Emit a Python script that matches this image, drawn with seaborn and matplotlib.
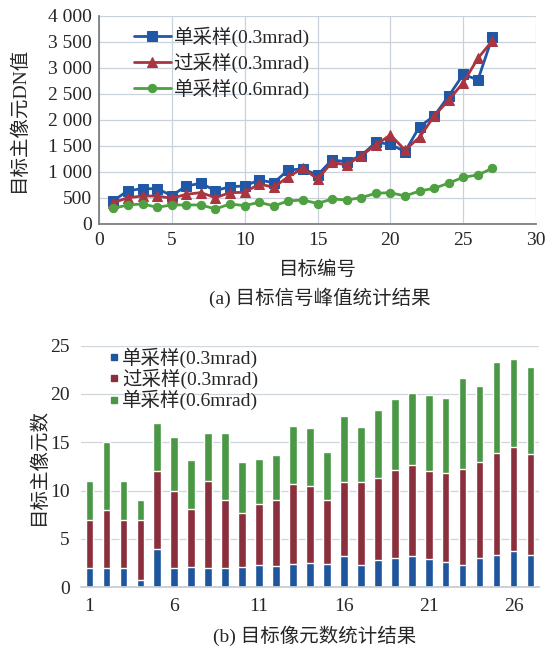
import numpy as np
import pandas as pd
import seaborn as sns
import matplotlib.pyplot as plt
from matplotlib.ticker import FuncFormatter, MultipleLocator
from matplotlib.lines import Line2D

# data
target_ids = list(range(1, 28))
series_names = ['单采样(0.3mrad)', '过采样(0.3mrad)', '单采样(0.6mrad)']

# (a) peak DN value of the target's main pixel
peak_single_03 = [442, 635, 673, 673, 539, 725, 776, 635, 711, 725, 840, 788, 1033, 1052,
                  937, 1225, 1192, 1308, 1565, 1527, 1385, 1866, 2071, 2456, 2873, 2763, 3596]
peak_over_03 = [404, 500, 532, 532, 488, 565, 597, 500, 597, 603, 763, 700, 904, 1065,
                860, 1180, 1129, 1308, 1514, 1706, 1417, 1662, 2071, 2379, 2712, 3181, 3519]
peak_single_06 = [296, 360, 379, 315, 360, 360, 360, 283, 379, 347, 411, 343, 437, 456,
                  388, 475, 456, 500, 585, 596, 532, 628, 680, 780, 893, 937, 1065]

# (b) number of main pixels (stacked segments)
pix_single_03 = [2, 2, 2, 0.8, 4, 2, 2.1, 2, 2, 2.1, 2.3, 2.2, 2.4, 2.5, 2.4, 3.2, 2.3,
                 2.8, 3.0, 3.2, 2.9, 2.6, 2.3, 3.0, 3.3, 3.8, 3.3]
pix_over_03 = [5, 6, 5, 6.2, 8, 8, 6.0, 9, 7, 5.6, 6.3, 6.8, 8.3, 8.0, 6.6, 7.7, 8.6,
               8.5, 9.1, 9.4, 9.1, 9.2, 9.9, 10.0, 10.6, 10.7, 10.5]
pix_single_06 = [4, 7, 4, 2, 5, 5.5, 5.1, 5, 7, 5.3, 4.7, 4.7, 6.0, 6.0, 5.0, 6.8, 5.7,
                 7.0, 7.4, 7.5, 7.9, 7.8, 9.4, 7.8, 9.4, 9.1, 9.0]
bar_ticks = [1, 6, 11, 16, 21, 26]

line_colors = ['#2057a6', '#a8353f', '#4ea041']
bar_colors = ['#1f559c', '#8a2f3c', '#4a9746']

sns.set_theme(style='white')
plt.rcParams['font.family'] = ['Liberation Serif', 'Noto Sans CJK SC']
plt.rcParams['axes.unicode_minus'] = False

fig = plt.figure(figsize=(5.52, 6.55), dpi=100)
ax1 = fig.add_axes([0.179, 0.6585, 0.7924, 0.3176])
ax2 = fig.add_axes([0.1467, 0.1034, 0.8297, 0.369])

#________________(a) LINE CHART_____________
markers = ['s', '^', 'o']
msizes = [6.5, 7, 6]
for name, vals, c, m, ms in zip(series_names, [peak_single_03, peak_over_03, peak_single_06],
                                line_colors, markers, msizes):
    sns.lineplot(x=target_ids, y=vals, ax=ax1, color=c, marker=m, markersize=ms,
                 markeredgecolor=c, linewidth=2, label=name)

ax1.set_xlim(0, 30)
ax1.set_ylim(0, 4000)
ax1.xaxis.set_major_locator(MultipleLocator(5))
ax1.yaxis.set_major_locator(MultipleLocator(500))
ax1.yaxis.set_major_formatter(FuncFormatter(lambda v, p: '{:,}'.format(int(v)).replace(',', ' ')))
ax1.grid(True, color='#c9d2da', linewidth=0.9)
ax1.set_axisbelow(True)
for s in ['top', 'right']:
    ax1.spines[s].set_visible(False)
for s in ['left', 'bottom']:
    ax1.spines[s].set_color('#7f7f7f')
    ax1.spines[s].set_linewidth(1.3)
ax1.tick_params(labelsize=14, length=0)
ax1.tick_params(axis='x', pad=6)
ax1.tick_params(axis='y', pad=5)
ax1.set_xlabel('目标编号', fontsize=14, labelpad=8)
ax1.set_ylabel('目标主像元DN值', fontsize=14, labelpad=14)
ax1.legend(loc='upper left', bbox_to_anchor=(0.055, 1.0), frameon=False, fontsize=14,
           handlelength=1.9, labelspacing=0.3, borderaxespad=0.15, handletextpad=0.15)
fig.text(0.58, 0.545, '(a) 目标信号峰值统计结果', ha='center', va='center', fontsize=14)

#________________(b) STACKED BAR CHART_____________
layer_single = np.array(pix_single_03)
layer_over = layer_single + np.array(pix_over_03)
layer_total = layer_over + np.array(pix_single_06)
df = pd.DataFrame({'id': [str(i) for i in target_ids], 'total': layer_total,
                   'over': layer_over, 'single': layer_single})

for col, c in zip(['total', 'over', 'single'], bar_colors[::-1]):
    sns.barplot(data=df, x='id', y=col, ax=ax2, color=c, saturation=1, width=0.45,
                errorbar=None)

ax2.set_xlim(-0.5, 26.5)
ax2.set_ylim(0, 25)
ax2.set_xticks([i - 1 for i in bar_ticks])
ax2.set_xticklabels([str(i) for i in bar_ticks])
ax2.yaxis.set_major_locator(MultipleLocator(5))
ax2.grid(True, axis='y', color='#cfd6dc', linewidth=0.9)
ax2.set_axisbelow(True)
for s in ['top', 'right', 'left']:
    ax2.spines[s].set_visible(False)
ax2.spines['bottom'].set_color('#c4ccd3')
ax2.tick_params(labelsize=14, length=0, pad=8)
ax2.tick_params(axis='y', pad=8)
ax2.set_xlabel('')
ax2.set_ylabel('目标主像元数', fontsize=14, labelpad=2)

handles = [Line2D([0], [0], marker='s', linestyle='', color=c, markersize=5) for c in bar_colors]
ax2.legend(handles, series_names, loc='upper left', bbox_to_anchor=(0.035, 1.04), frameon=False,
           fontsize=14, handlelength=0.5, labelspacing=0.05, borderaxespad=0.2, handletextpad=0.2)
fig.text(0.57, 0.03, '(b) 目标像元数统计结果', ha='center', va='center', fontsize=14)

fig.savefig('out.png', dpi=100, facecolor='white')
